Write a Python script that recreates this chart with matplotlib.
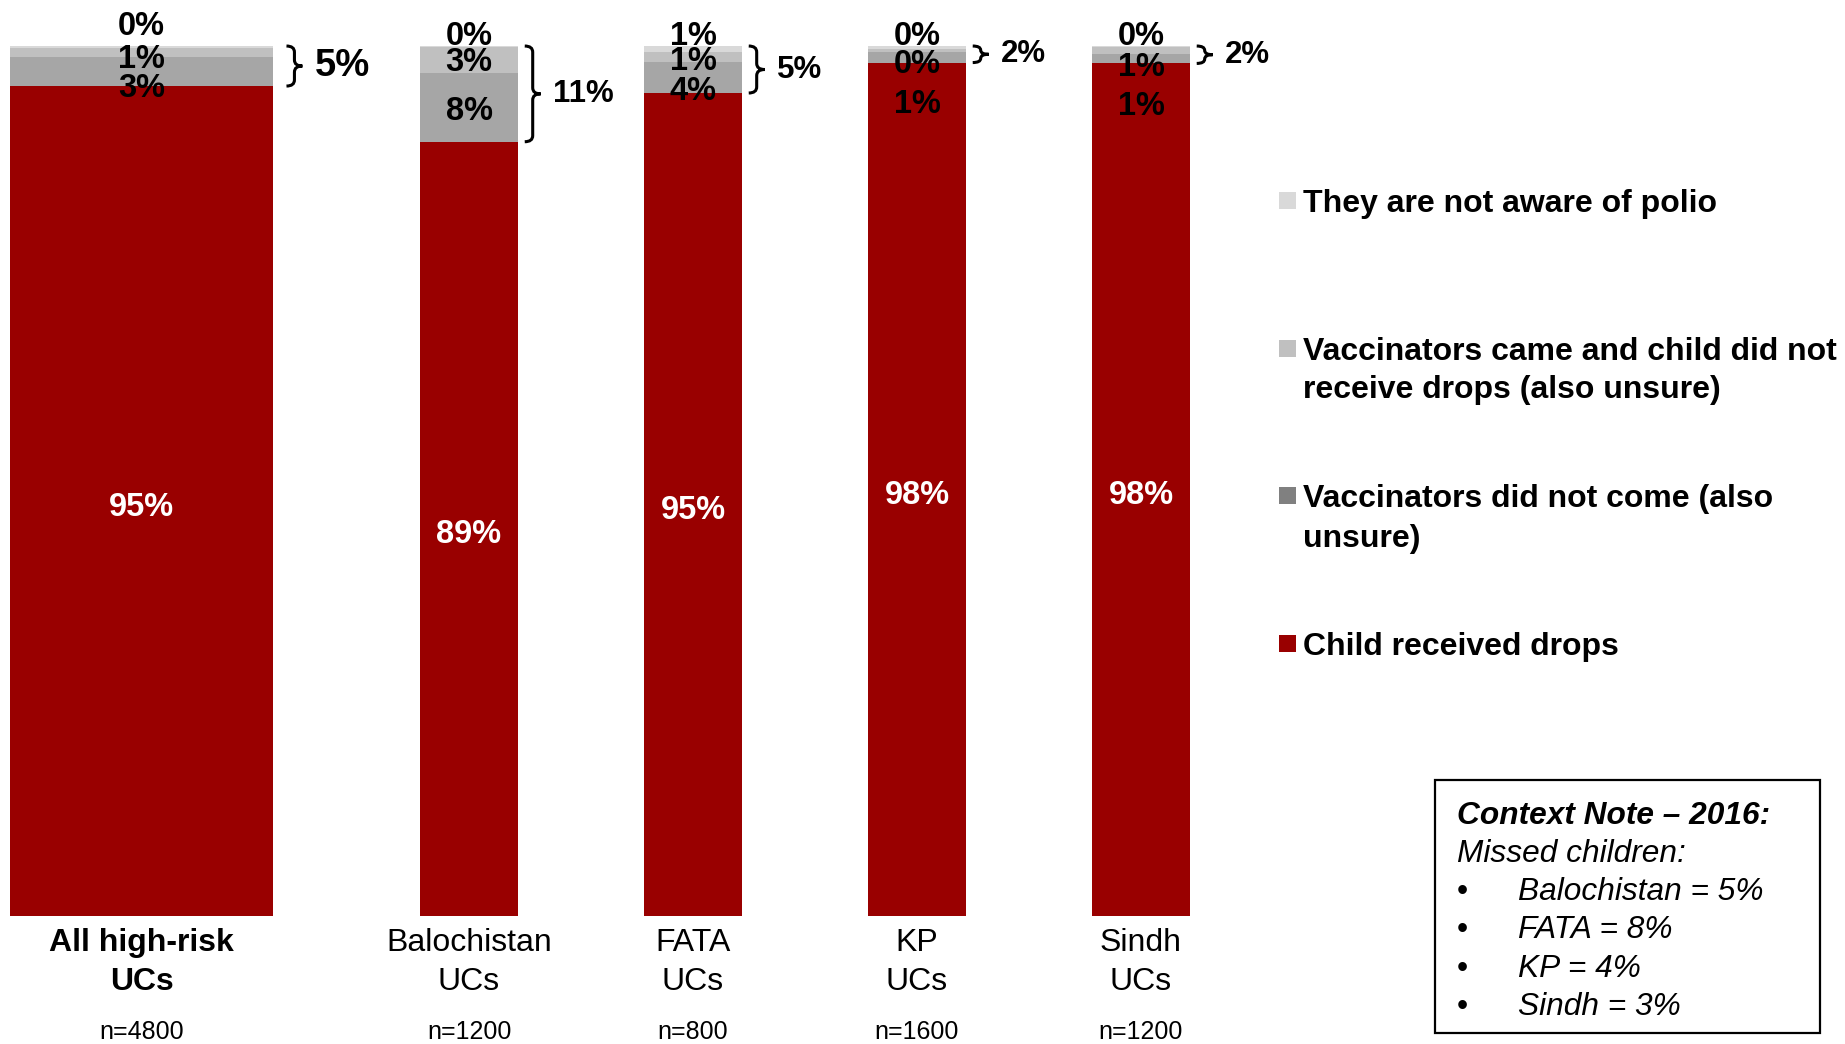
import numpy as np
import pandas as pd
import matplotlib
matplotlib.use("Agg")
import matplotlib.pyplot as plt
from matplotlib.path import Path
from matplotlib.patches import PathPatch, Rectangle

plt.rcParams["font.family"] = ["Liberation Sans", "DejaVu Sans"]

# survey shares per area (percent of children)
categories = ["All high-risk\nUCs", "Balochistan\nUCs", "FATA\nUCs", "KP\nUCs", "Sindh\nUCs"]
sample_sizes = ["n=4800", "n=1200", "n=800", "n=1600", "n=1200"]
received = [95.4, 89.0, 94.6, 98.1, 98.0]
did_not_come = [3.3, 7.9, 3.6, 1.2, 1.1]
came_not_received = [1.1, 3.0, 1.1, 0.4, 0.8]
not_aware = [0.2, 0.1, 0.7, 0.3, 0.1]

legend_labels = [
    "They are not aware of polio",
    "Vaccinators came and child did not\nreceive drops (also unsure)",
    "Vaccinators did not come (also\nunsure)",
    "Child received drops",
]
note_title = "Context Note \u2013 2016:"
note_subtitle = "Missed children:"
note_items = ["Balochistan = 5%", "FATA = 8%", "KP = 4%", "Sindh = 3%"]

df = pd.DataFrame({
    "received": received,
    "did_not_come": did_not_come,
    "came": came_not_received,
    "not_aware": not_aware,
}, index=categories)

# layout
xpos = [0.038, 1.5, 2.5, 3.5, 4.5]
widths = [1.174, 0.4375, 0.4375, 0.4375, 0.4375]
brace_gap = [0.06, 0.03, 0.03, 0.03, 0.03]
# baselines of the small labels (not aware, came, did not come)
small_label_y = [
    (101.26, 97.47, 94.14),
    (100.11, 97.13, 91.49),
    (100.11, 97.24, 93.79),
    (100.11, 96.90, 92.30),
    (100.11, 96.55, 92.07),
]
bar_colors = {"received": "#990000", "did_not_come": "#A6A6A6",
              "came": "#C0C0C0", "not_aware": "#D9D9D9"}
legend_colors = ["#D9D9D9", "#C0C0C0", "#808080", "#990000"]

W, H = 1845, 1044
fig = plt.figure(figsize=(W / 100, H / 100), dpi=100)
ax = fig.add_axes([0, 0, 1, 1])
ax.set_xlim(-0.594, 7.643)
ax.set_ylim(-14.71, 105.29)
ax.axis("off")

bottom = np.zeros(len(df))
for col in ["received", "did_not_come", "came", "not_aware"]:
    ax.bar(xpos, df[col], width=widths, bottom=bottom, color=bar_colors[col], linewidth=0)
    bottom += df[col].values


def brace(ax, x, y0, y1, w=0.071):
    ym = (y0 + y1) / 2
    r = min(0.7, (y1 - y0) / 4)
    xm = x + w / 2
    verts = [(x, y1), (xm, y1), (xm, y1 - r), (xm, ym + r), (xm, ym), (x + w, ym),
             (xm, ym), (xm, ym - r), (xm, y0 + r), (xm, y0), (x, y0)]
    codes = [Path.MOVETO, Path.CURVE3, Path.CURVE3, Path.LINETO, Path.CURVE3, Path.CURVE3,
             Path.CURVE3, Path.CURVE3, Path.LINETO, Path.CURVE3, Path.CURVE3]
    ax.add_patch(PathPatch(Path(verts, codes), fill=False, lw=2.2, color="black"))
    return ym


for i, cat in enumerate(categories):
    x = xpos[i]
    row = df.iloc[i]
    # share that received drops
    ax.text(x, row["received"] / 2 - 0.7, f"{row['received']:.0f}%", ha="center", va="center",
            color="white", fontsize=23.5, fontweight="bold")
    ya, yc, yd = small_label_y[i]
    ax.text(x, ya, f"{row['not_aware']:.0f}%", ha="center", va="baseline", fontsize=23.5, fontweight="bold")
    ax.text(x, yc, f"{row['came']:.0f}%", ha="center", va="baseline", fontsize=23.5, fontweight="bold")
    ax.text(x, yd, f"{row['did_not_come']:.0f}%", ha="center", va="baseline", fontsize=23.5, fontweight="bold")

    # bracket around missed children
    missed = row["did_not_come"] + row["came"] + row["not_aware"]
    bx = x + widths[i] / 2 + brace_gap[i]
    ym = brace(ax, bx, row["received"], row["received"] + missed)
    ax.text(bx + 0.125, ym, f"{missed:.0f}%", ha="left", va="center",
            fontsize=27.5 if i == 0 else 22.5, fontweight="bold")

    # category and sample size
    lines = cat.split("\n")
    for line, yl in zip(lines, [-4.02, -8.51]):
        ax.text(x, yl, line, ha="center", va="baseline", fontsize=23,
                fontweight="bold" if i == 0 else "normal")
    ax.text(x, -14.14, sample_sizes[i], ha="center", va="baseline", fontsize=18)


def fx(px):
    return px / W


def fy(py):
    return 1 - py / H


# legend
legend_baselines = [[212], [360, 398], [507, 547], [655]]
for label, color, bases in zip(legend_labels, legend_colors, legend_baselines):
    fig.patches.append(Rectangle((fx(1279), fy(bases[0] - 3)), 17 / W, 17 / H,
                                 transform=fig.transFigure, color=color, lw=0))
    for line, b in zip(label.split("\n"), bases):
        fig.text(fx(1303), fy(b), line, ha="left", va="baseline", fontsize=23, fontweight="bold")

# context note box
fig.patches.append(Rectangle((fx(1435), fy(1033)), 385 / W, 253 / H, transform=fig.transFigure,
                             fill=False, edgecolor="black", lw=1.6))
fig.text(fx(1457), fy(824), note_title, ha="left", va="baseline", fontsize=22.8,
         fontweight="bold", style="italic")
fig.text(fx(1457), fy(862), note_subtitle, ha="left", va="baseline", fontsize=22.8, style="italic")
for item, b in zip(note_items, [900, 938, 977, 1015]):
    fig.text(fx(1457), fy(b), "\u2022", ha="left", va="baseline", fontsize=22.8)
    fig.text(fx(1518), fy(b), item, ha="left", va="baseline", fontsize=22.8, style="italic")

fig.savefig("out.png", dpi=100, facecolor="white")
